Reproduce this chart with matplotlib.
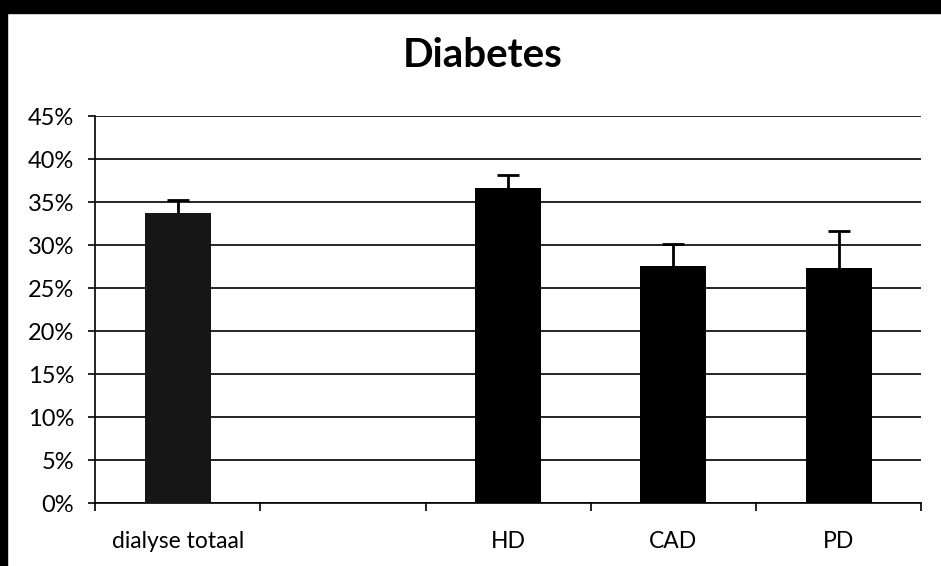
import numpy as np
import matplotlib.pyplot as plt
from matplotlib.patches import Rectangle

# -----------------------------
# Data
# -----------------------------
categories = ['dialyse totaal', '', 'HD', 'CAD', 'PD']
values = [33.7, np.nan, 36.6, 27.6, 27.3]      # percent
err = [1.5, np.nan, 1.5, 2.5, 4.3]             # error, percent (lower half hidden by bar)
bar_colors = ['#161616', 'black', 'black', 'black', 'black']
y_ticks = list(range(0, 50, 5))

plt.rcParams['font.family'] = ['Lato', 'DejaVu Sans']

fig = plt.figure(figsize=(9.41, 5.66), dpi=100)
ax = fig.add_axes([0.101, 0.1113, 0.878, 0.6837])

x = np.arange(len(categories))
vals = np.array(values, dtype=float)
errs = np.array(err, dtype=float)
mask = ~np.isnan(vals)

# error bars drawn under the bars so only the upper half shows
ax.errorbar(x[mask], vals[mask], yerr=errs[mask],
            fmt='none', ecolor='black', elinewidth=2, capsize=8, capthick=2, zorder=2)
ax.bar(x[mask], vals[mask], width=0.4, color=[c for c, m in zip(bar_colors, mask) if m],
       zorder=3)

# axes / grid
ax.set_xlim(-0.5, len(categories) - 0.5)
ax.set_ylim(0, 45)
ax.set_yticks(y_ticks)
ax.set_yticklabels([f'{t}%' for t in y_ticks], fontsize=17)
ax.yaxis.grid(True, color='black', linewidth=1.2, zorder=0)
ax.set_axisbelow(True)

ax.set_xticks(x)
ax.set_xticklabels(categories, fontsize=16.5)
ax.set_xticks(np.arange(-0.5, len(categories)), minor=True)
ax.tick_params(axis='x', which='major', length=0, pad=20)
ax.tick_params(axis='x', which='minor', length=6, width=1.2, direction='out')
ax.tick_params(axis='y', length=5, width=1.2, direction='out', pad=10)

for side in ['top', 'right']:
    ax.spines[side].set_visible(False)
ax.spines['left'].set_linewidth(1.2)
ax.spines['bottom'].set_linewidth(1.2)

fig.text(0.513, 1 - 67 / 566, 'Diabetes', fontsize=29, fontweight='bold',
         ha='center', va='baseline')

# scanned black frame on top and left
fig.patches.append(Rectangle((0, 1 - 13 / 566), 1, 13 / 566, transform=fig.transFigure,
                             color='black', zorder=10))
fig.patches.append(Rectangle((0, 0), 7 / 941, 1, transform=fig.transFigure,
                             color='black', zorder=10))

plt.savefig('out.png', dpi=100)
